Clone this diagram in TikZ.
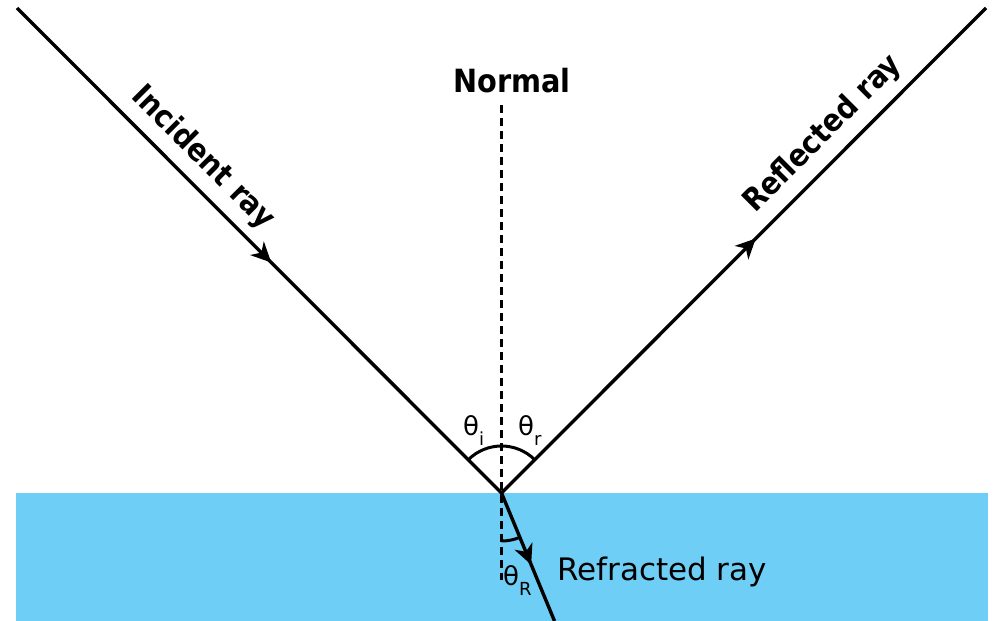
\documentclass[tikz,border=0pt]{standalone}
\usepackage{fontspec}
\setmainfont{DejaVu Sans}
\newfontfamily\condfont[FakeStretch=0.9]{DejaVu Sans}
\usetikzlibrary{arrows.meta,decorations.markings}
\definecolor{water}{RGB}{110,206,245}
\tikzset{
  ray/.style={line width=3.4pt},
  midarrow/.style={postaction={decorate},decoration={markings,
     mark=at position #1 with {\arrow{Stealth[length=20pt,width=19pt,inset=6pt]}}}},
  normalline/.style={line width=2.8pt,dash pattern=on 8pt off 5pt},
  anglearc/.style={line width=3pt},
  raylabel/.style={font=\condfont\fontsize{31}{31}\selectfont\bfseries,inner sep=0pt},
  thetalabel/.style={font=\fontsize{26}{26}\selectfont,inner sep=0pt,anchor=base west},
}
\newcommand{\subsc}[1]{\raisebox{-0.4em}{\fontsize{18}{18}\selectfont #1}}
\begin{document}
\begin{tikzpicture}[x=1pt,y=1pt]
\useasboundingbox (0,0) rectangle (994,-621);
\clip (0,0) rectangle (994,-621);
% water
\fill[water] (16,-493) rectangle (988,-621);
% coordinates
\coordinate (O) at (501.5,-493);
\coordinate (A) at (17,-8);
\coordinate (B) at (986,-8);
\coordinate (R) at (554.5,-621);
\coordinate (N1) at (501.5,-105);
\coordinate (N2) at (501.5,-580);
% normal
\draw[normalline] (N1) -- (N2);
% rays
\draw[ray,midarrow=0.525] (A) -- (O);
\draw[ray,midarrow=0.525] (O) -- (B);
\draw[ray,midarrow=0.56] (O) -- (R);
% angle arcs
\draw[anglearc] (O) ++(135:47) arc[start angle=135,end angle=45,radius=47];
\draw[anglearc] (O) ++(270:48) arc[start angle=270,end angle=292.5,radius=48];
% labels
\node[raylabel,anchor=base,font=\condfont\fontsize{32}{32}\selectfont\bfseries] (normal) at (512,-92) {Normal};
\node[raylabel,rotate=-45] (inc) at (203,-158) {Incident ray};
\node[raylabel,rotate=45] (refl) at (823,-134) {Reflected ray};
\node[font=\fontsize{31}{31}\selectfont,inner sep=0pt,anchor=base west] (refr) at (557,-580) {Refracted ray};
\node[thetalabel] (ti) at (463,-435) {θ\subsc{i}};
\node[thetalabel] (tr) at (518,-435) {θ\subsc{r}};
\node[thetalabel] (tR) at (503,-585) {θ\subsc{R}};
\end{tikzpicture}
\end{document}
